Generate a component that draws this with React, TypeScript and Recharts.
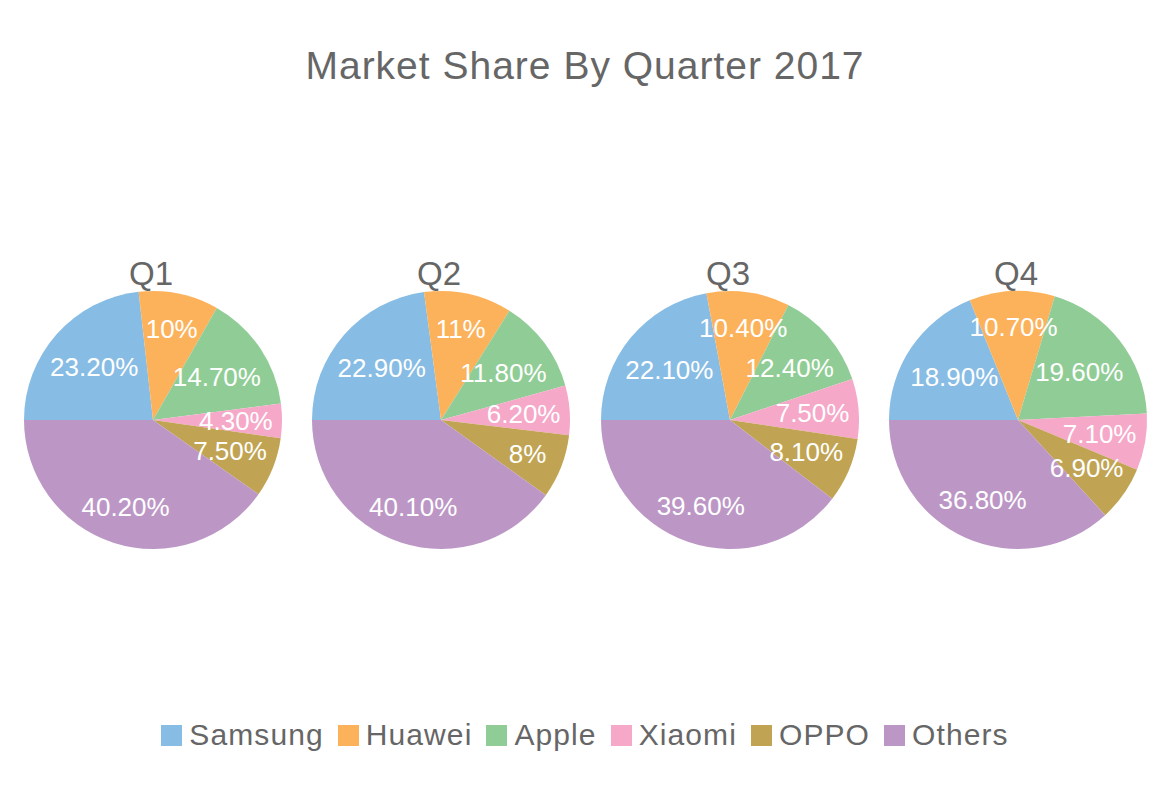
import { PieChart, Pie, Cell, Legend } from 'recharts';

const BRANDS = ['Samsung', 'Huawei', 'Apple', 'Xiaomi', 'OPPO', 'Others'];
const COLORS = ['#87bce4', '#fcb25b', '#90cd96', '#f5a8c8', '#c0a454', '#bc97c6'];

const QUARTERS = ['Q1', 'Q2', 'Q3', 'Q4'];
const Q1 = [23.2, 10, 14.7, 4.3, 7.5, 40.2];
const Q2 = [22.9, 11, 11.8, 6.2, 8, 40.1];
const Q3 = [22.1, 10.4, 12.4, 7.5, 8.1, 39.6];
const Q4 = [18.9, 10.7, 19.6, 7.1, 6.9, 36.8];

const SERIES = [Q1, Q2, Q3, Q4];

const WIDTH = 1170;
const HEIGHT = 801;
const PIE_X = [153, 441, 730, 1018];
const PIE_Y = 420;
const RADIUS = 129;

const FONT = '"Liberation Sans", Arial, Helvetica, sans-serif';
const TEXT = '#666666';
const LABEL_SIZE = 26;

const fmt = (v: number) => (Number.isInteger(v) ? `${v}%` : `${v.toFixed(2)}%`);

// rough text width for the label font (Arial metrics)
const textWidth = (s: string) =>
  s.split('').reduce((w, ch) => w + (ch === '.' ? 0.278 : ch === '%' ? 0.889 : 0.556), 0) *
  LABEL_SIZE;

const RAD = Math.PI / 180;

function renderLabel(props: any) {
  const { cx, cy, midAngle, outerRadius, value } = props;
  const txt = fmt(value);
  const hw = textWidth(txt) / 2;
  const hh = 10;
  const limit = outerRadius - 8;
  const c = Math.cos(-midAngle * RAD);
  const s = Math.sin(-midAngle * RAD);
  // pull the label inwards until its box sits inside the slice circle
  let r = outerRadius * 0.72;
  while (r > 0) {
    const x = r * c;
    const y = r * s;
    const far = Math.hypot(Math.abs(x) + hw, Math.abs(y) + hh);
    if (far <= limit) break;
    r -= 1;
  }
  return (
    <text
      x={cx + r * c}
      y={cy + r * s}
      fill="#ffffff"
      textAnchor="middle"
      dominantBaseline="central"
      fontSize={LABEL_SIZE}
      fontFamily={FONT}
    >
      {txt}
    </text>
  );
}

function renderLegend() {
  return (
    <div
      style={{
        display: 'flex',
        justifyContent: 'center',
        alignItems: 'center',
        fontFamily: FONT,
        fontSize: 30,
        lineHeight: '30px',
        color: TEXT,
      }}
    >
      {BRANDS.map((b, i) => (
        <div
          key={b}
          style={{
            display: 'flex',
            alignItems: 'center',
            marginLeft: i === 0 ? 0 : 14,
          }}
        >
          <span
            style={{
              display: 'inline-block',
              width: 21,
              height: 21,
              background: COLORS[i],
              marginRight: 7,
            }}
          />
          <span style={{ letterSpacing: 1.1 }}>{b}</span>
        </div>
      ))}
    </div>
  );
}

export default function App() {
  return (
    <div
      style={{
        position: 'absolute',
        left: 0,
        top: 0,
        width: WIDTH,
        height: HEIGHT,
        background: '#ffffff',
      }}
    >
      <svg
        width={WIDTH}
        height={HEIGHT}
        style={{ position: 'absolute', left: 0, top: 0 }}
      >
        <text
          x={585}
          y={79}
          textAnchor="middle"
          fontSize={39}
          fontFamily={FONT}
          fill={TEXT}
          letterSpacing={1}
        >
          Market Share By Quarter 2017
        </text>
        {QUARTERS.map((q, i) => (
          <text
            key={q}
            x={PIE_X[i] - 2}
            y={285}
            textAnchor="middle"
            fontSize={33}
            fontFamily={FONT}
            fill={TEXT}
          >
            {q}
          </text>
        ))}
      </svg>
      <div style={{ position: 'absolute', left: 0, top: 0 }}>
        <PieChart width={WIDTH} height={HEIGHT} margin={{ top: 0, right: 0, bottom: 0, left: 0 }}>
          {SERIES.map((vals, qi) => (
            <Pie
              key={QUARTERS[qi]}
              data={BRANDS.map((name, i) => ({ name, value: vals[i] }))}
              dataKey="value"
              nameKey="name"
              cx={PIE_X[qi]}
              cy={PIE_Y}
              outerRadius={RADIUS}
              startAngle={180}
              endAngle={-180}
              stroke="none"
              labelLine={false}
              label={renderLabel}
              isAnimationActive={false}
            >
              {BRANDS.map((b, i) => (
                <Cell key={b} fill={COLORS[i]} />
              ))}
            </Pie>
          ))}
          <Legend
            content={renderLegend}
            wrapperStyle={{ top: 720, left: 0, width: WIDTH, bottom: 'auto' }}
          />
        </PieChart>
      </div>
    </div>
  );
}
